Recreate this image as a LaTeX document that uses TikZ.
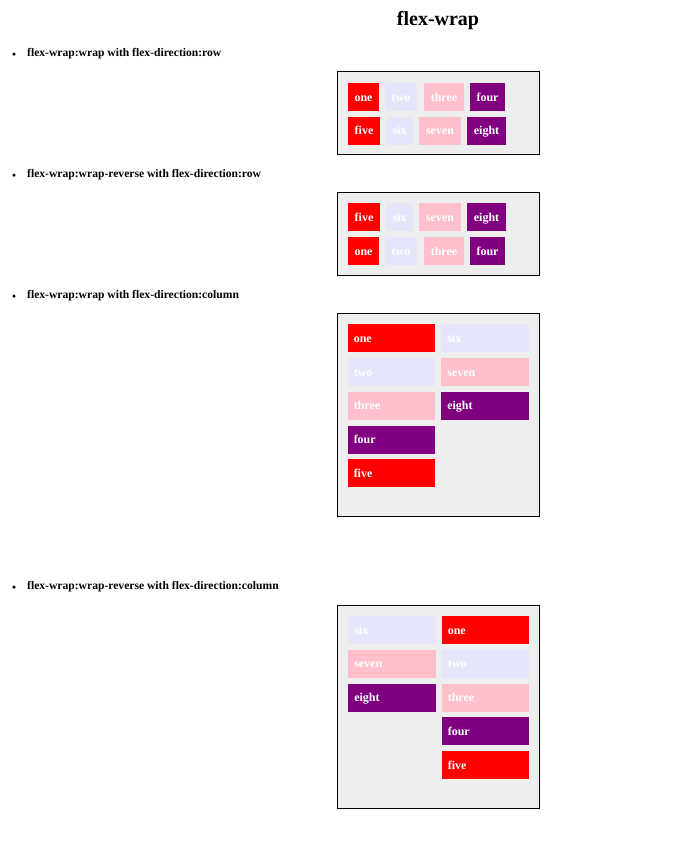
\documentclass[tikz,border=0pt]{standalone}
\usepackage{fontspec}
\setmainfont{Liberation Serif}
\definecolor{boxbg}{HTML}{EEEEEE}
\definecolor{itemred}{HTML}{FF0000}
\definecolor{itemlav}{HTML}{E6E6FA}
\definecolor{itempink}{HTML}{FFC0CB}
\definecolor{itempurple}{HTML}{800080}

\begin{document}
\begin{tikzpicture}[
  x=1pt,y=-1pt,
  pagetitle/.style={font=\bfseries\fontsize{20}{24}\selectfont,inner sep=0pt},
  head/.style={font=\bfseries\fontsize{11.6}{14}\selectfont,inner sep=0pt,
               anchor=west},
  dot/.style={circle,fill=black,inner sep=0pt,minimum size=3.5pt},
  box/.style={draw=black,fill=boxbg,line width=1pt,inner sep=0pt,
              minimum width=202pt},
  item/.style={inner sep=0pt,minimum height=28pt,text=white,
               text height=9.5pt,text depth=1.5pt,
               font=\bfseries\fontsize{12}{14}\selectfont},
  colitem/.style={item,inner xsep=6pt,text width=75.5pt,align=left}
]
\useasboundingbox (0,0) rectangle (684,852);

\node[pagetitle] (title) at (438,21) {flex-wrap};

% wrap, row direction
\node[dot] (dot1) at (14,54) {};
\node[head] (head1) at (27,54) {flex-wrap:wrap with flex-direction:row};
\node[box,minimum height=83pt] (wraprow) at (438.5,113) {};
\foreach \n/\x/\w/\c in {one/363.5/31/itemred,two/401/32/itemlav,
    three/444/40/itempink,four/487.5/35/itempurple} {
  \node[item,fill=\c,minimum width=\w] (a\n) at (\x,97) {\n};
}
\foreach \n/\x/\w/\c in {five/364/32/itemred,six/399.5/27/itemlav,
    seven/440/42/itempink,eight/486.5/39/itempurple} {
  \node[item,fill=\c,minimum width=\w] (a\n) at (\x,130.5) {\n};
}

% wrap-reverse, row direction: second line ends up on top
\node[dot] (dot2) at (14,175) {};
\node[head] (head2) at (27,175) {flex-wrap:wrap-reverse with flex-direction:row};
\node[box,minimum height=82.5pt] (revrow) at (438.5,233.75) {};
\foreach \n/\x/\w/\c in {five/364/32/itemred,six/399.5/27/itemlav,
    seven/440/42/itempink,eight/486.5/39/itempurple} {
  \node[item,fill=\c,minimum width=\w] (b\n) at (\x,217) {\n};
}
\foreach \n/\x/\w/\c in {one/363.5/31/itemred,two/401/32/itemlav,
    three/444/40/itempink,four/487.5/35/itempurple} {
  \node[item,fill=\c,minimum width=\w] (b\n) at (\x,251) {\n};
}

% wrap, column direction
\node[dot] (dot3) at (14,296) {};
\node[head] (head3) at (27,296) {flex-wrap:wrap with flex-direction:column};
\node[box,minimum height=203pt] (wrapcol) at (438.5,415) {};
\foreach \n/\y/\c in {one/338/itemred,two/372/itemlav,three/405.5/itempink,
    four/439.5/itempurple,five/473/itemred} {
  \node[colitem,fill=\c] (c\n) at (391.5,\y) {\n};
}
\foreach \n/\y/\c in {six/338/itemlav,seven/372/itempink,eight/405.5/itempurple} {
  \node[colitem,fill=\c] (c\n) at (485,\y) {\n};
}

% wrap-reverse, column direction: second column ends up on the left
\node[dot] (dot4) at (14,587) {};
\node[head] (head4) at (27,587) {flex-wrap:wrap-reverse with flex-direction:column};
\node[box,minimum height=203pt] (revcol) at (438.5,707) {};
\foreach \n/\y/\c in {six/630/itemlav,seven/663.5/itempink,eight/697.5/itempurple} {
  \node[colitem,fill=\c] (d\n) at (392,\y) {\n};
}
\foreach \n/\y/\c in {one/630/itemred,two/663.5/itemlav,three/697.5/itempink,
    four/731/itempurple,five/765/itemred} {
  \node[colitem,fill=\c] (d\n) at (485.5,\y) {\n};
}

\end{tikzpicture}
\end{document}
